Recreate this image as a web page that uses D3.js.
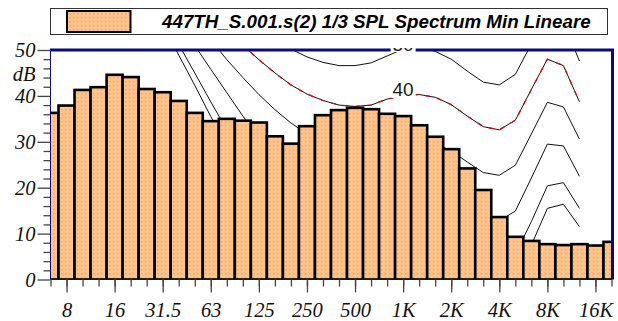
<!DOCTYPE html>
<html><head><meta charset="utf-8">
<script src="https://cdn.jsdelivr.net/npm/d3@7"></script>
<style>body{margin:0;background:#fff} svg{display:block}</style>
</head><body><svg id="c" width="618" height="321"></svg>
<script>
// ---- data ----
const bands = ["6.3","8","10","12.5","16","20","25","31.5","40","50","63","80","100","125","160","200","250","315","400","500","630","800","1K","1.25K","1.6K","2K","2.5K","3.15K","4K","5K","6.3K","8K","10K","12.5K","16K","20K"];
const splMin = [36.3,37.9,41.3,41.9,44.6,44.1,41.5,40.8,38.9,36.3,34.5,35.0,34.6,34.2,31.2,29.6,33.4,35.8,36.9,37.4,37.1,36.1,35.6,33.6,31.1,28.4,24.2,19.5,13.6,9.3,8.4,7.7,7.5,7.7,7.4,8.2];
const tickLabels = ["8","16","31.5","63","125","250","500","1K","2K","4K","8K","16K"];
const yMajor = [0,10,20,30,40,50];
const yMinor = [2,4,6,8,12,14,16,18,22,24,26,28,32,34,36,38,42,44,46,48];
const contourBands = ["20","25","31.5","40","50","63","80","100","125","160","200","250","315","400","500","630","800","1K","1.25K","1.6K","2K","2.5K","3.15K","4K","5K","6.3K","8K","10K","12.5K"];
const contourThreshold = [69.5,62.5,55.6,48.9,42.3,35.5,29,23.5,18.5,14.5,11.5,9,7,5.5,4.5,4,4,4,3.5,2,0,-2,-3.5,-4,-1,7.5,15.5,16.4,11.5];
const contour10 = [70,64,57.5,51.2,45,38.7,32.6,27.5,23,19.5,16.5,14,12.5,11,10.3,10,10.3,10,10.3,9.5,8,5.8,3.5,2.8,5.5,12.6,20.4,21.1,15.5];
const contour20 = [71,66,61,56,51,45.8,40.7,35.6,31,28,25.5,23.5,22,20.8,20,19.8,20.2,20,20.3,19.5,18,15.8,13.3,12.8,14.9,22.1,29.5,29.1,22.5];
const contour30 = [76,71,66,61,56.5,52.2,47.9,44.0,40.3,37.0,34.1,31.7,30.3,29.2,28.7,28.7,29.5,30,30.3,29.7,28.0,25.6,23.3,22.7,24.9,31.7,38.6,37.6,30.6];
const contour40 = [82,77,72,67,62.5,58.5,54.5,51,47.9,45.0,42.4,40.4,39.0,38.0,37.7,38.0,39.3,40.1,40.3,39.7,38.1,35.6,33.3,32.6,34.7,41.4,48.0,46.6,38.7];
const contour50 = [88,83,78,73,68.5,64.5,60.5,57,54.5,52.2,50.2,48.5,47.3,46.6,46.6,47.2,48.7,50.2,50.6,49.7,48.0,45.4,43.0,42.4,44.7,51.3,57.6,56.1,47.6];
const contourLabels = [{text:"40", band:"1K", level:40},{text:"50", band:"1K", level:50}];
const legendLabel = "447TH_S.001.s(2) 1/3 SPL Spectrum Min Lineare";
const yUnit = "dB";

// ---- layout ----
const L = 50.5, R = 611.5, T = 50, B = 279.5;
const svg = d3.select("#c");
const x = d3.scalePoint().domain(bands).range([L, R]);
const bw = x.step();
const y = d3.scaleLinear().domain([0, 50]).range([B, T]);
const navy = "#0a0a80";

function serifText(sel){
  return sel.attr("font-family","Liberation Serif").attr("font-style","italic")
    .attr("font-size",20.5).attr("fill","#111");
}

const defs = svg.append("defs");
const pat = defs.append("pattern").attr("id","dots").attr("patternUnits","userSpaceOnUse")
  .attr("width",4).attr("height",4);
pat.append("rect").attr("width",4).attr("height",4).attr("fill","#FEC38A");
pat.append("rect").attr("x",1).attr("y",1).attr("width",1.4).attr("height",1.4).attr("fill","#F6A65C");
defs.append("clipPath").attr("id","plot").append("rect")
  .attr("x",L).attr("y",T).attr("width",R-L).attr("height",B-T);
defs.append("clipPath").attr("id","lab").append("rect")
  .attr("x",L).attr("y",48).attr("width",R-L).attr("height",B-48);

// ---- contours ----
const cg = svg.append("g").attr("clip-path","url(#plot)");
const line = d3.line().x((d,i)=>x(contourBands[i])).y(d=>y(d));
[contourThreshold, contour10, contour20, contour30, contour40, contour50].forEach(c=>{
  cg.append("path").attr("d",line(c)).attr("fill","none").attr("stroke","#111").attr("stroke-width",1);
});
cg.append("path").attr("d",line(contour40)).attr("fill","none").attr("stroke","#e60000")
  .attr("stroke-width",1.3).attr("stroke-dasharray","5,7");

// ---- bars ----
const bg = svg.append("g").attr("clip-path","url(#plot)");
bg.selectAll("rect").data(splMin).join("rect")
  .attr("x",(d,i)=>x(bands[i]) - bw/2)
  .attr("y",d=>y(d))
  .attr("width",bw)
  .attr("height",d=>y(0)-y(d))
  .attr("fill","url(#dots)")
  .attr("stroke","#000").attr("stroke-width",2.6);

// ---- frame ----
svg.append("line").attr("x1",L).attr("x2",L).attr("y1",T).attr("y2",B).attr("stroke",navy).attr("stroke-width",1);
svg.append("line").attr("x1",L).attr("x2",R+1).attr("y1",B).attr("y2",B).attr("stroke",navy).attr("stroke-width",1);
svg.append("line").attr("x1",L-0.5).attr("x2",R+2.5).attr("y1",T).attr("y2",T).attr("stroke",navy).attr("stroke-width",3);
svg.append("line").attr("x1",R+1).attr("x2",R+1).attr("y1",T).attr("y2",B).attr("stroke",navy).attr("stroke-width",3);

// ---- contour labels ----
const lg = svg.append("g").attr("clip-path","url(#lab)");
contourLabels.forEach(c=>{
  const cx = x(c.band), by = y(c.level) + 1;
  lg.append("rect").attr("x",cx-12.5).attr("y",by-15.5).attr("width",25).attr("height",16.5).attr("fill","#fff");
  lg.append("text").attr("x",cx).attr("y",by-0.5).attr("text-anchor","middle")
    .attr("font-family","Liberation Sans").attr("font-size",19).attr("fill","#1a1a1a").text(c.text);
});

// ---- axes ----
function styleAxis(g){
  g.select(".domain").remove();
  g.selectAll(".tick line").attr("stroke","#444").attr("stroke-width",1.3);
}
const gyMinor = svg.append("g").attr("transform",`translate(${L},0)`)
  .call(d3.axisLeft(y).tickValues(yMinor).tickSize(7).tickFormat(""));
styleAxis(gyMinor);
const gy = svg.append("g").attr("transform",`translate(${L},0)`)
  .call(d3.axisLeft(y).tickValues(yMajor).tickSize(13).tickPadding(2));
styleAxis(gy);
gy.attr("font-family","Liberation Serif").attr("font-size",20.5);
serifText(gy.selectAll("text"));
serifText(svg.append("text").attr("x",L-15).attr("y",80.5).attr("text-anchor","end")).text(yUnit);

const gxMinor = svg.append("g").attr("transform",`translate(0,${B})`)
  .call(d3.axisBottom(x).tickValues(bands).tickSize(7).tickFormat(""));
styleAxis(gxMinor);
const gx = svg.append("g").attr("transform",`translate(0,${B})`)
  .call(d3.axisBottom(x).tickValues(tickLabels).tickSize(13));
styleAxis(gx);
gx.attr("font-family","Liberation Serif").attr("font-size",20.5);
serifText(gx.selectAll("text").attr("y",37.5).attr("dy",0));

// ---- legend ----
const leg = svg.append("g");
leg.append("rect").attr("x",50.5).attr("y",8.5).attr("width",557).attr("height",26)
  .attr("fill","#fff").attr("stroke","#333").attr("stroke-width",1);
leg.append("rect").attr("x",67).attr("y",11).attr("width",63.5).attr("height",21)
  .attr("fill","url(#dots)").attr("stroke","#000").attr("stroke-width",2);
leg.append("text").attr("x",162).attr("y",27.5)
  .attr("font-family","Liberation Sans").attr("font-style","italic").attr("font-weight","bold")
  .attr("font-size",18.8).attr("fill","#000").text(legendLabel);
</script></body></html>
